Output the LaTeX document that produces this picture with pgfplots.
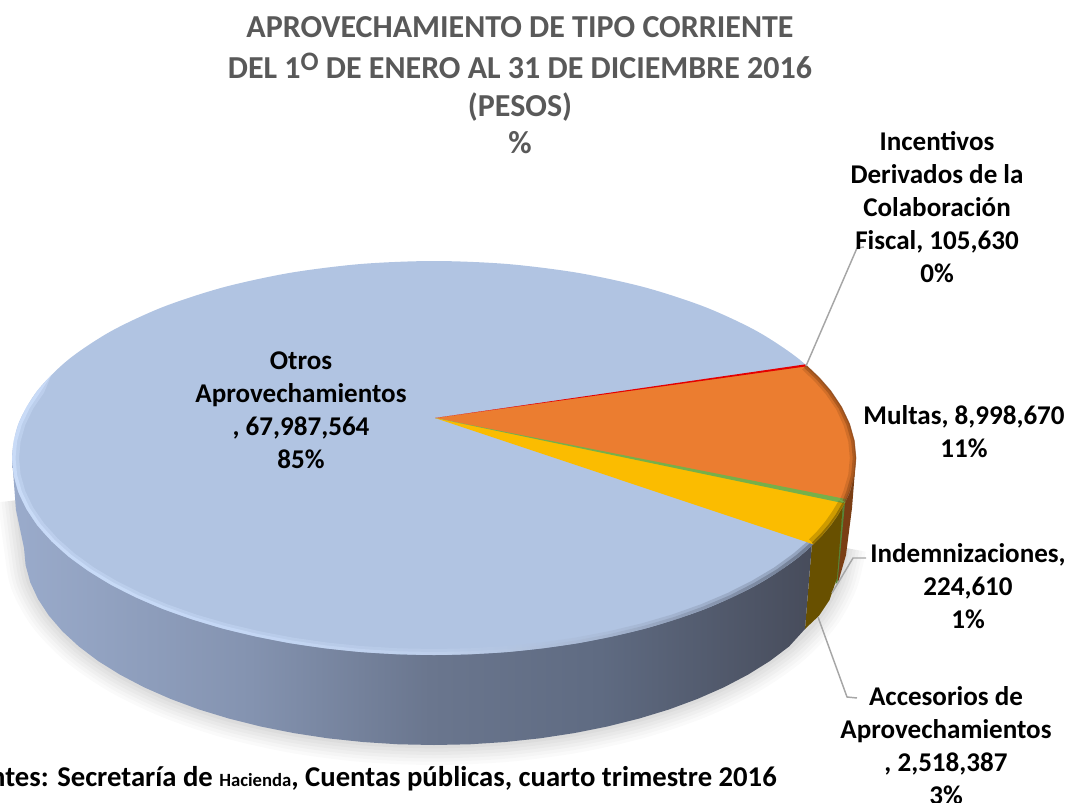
\documentclass[border=0pt]{standalone}
\usepackage{fontspec}
\setmainfont{Carlito}
\usepackage{pgfplots}
\pgfplotsset{compat=1.18}
\definecolor{sa}{HTML}{9AABCB}\definecolor{sb}{HTML}{8493B0}\definecolor{sc}{HTML}{6A768E}\definecolor{sd}{HTML}{5F6B82}\definecolor{se}{HTML}{474C5B}
\definecolor{ra}{HTML}{D2E4FF}\definecolor{rb}{HTML}{CDE0FE}\definecolor{rc}{HTML}{C2D3EE}\definecolor{rd}{HTML}{A3B2CC}\definecolor{re}{HTML}{78849B}\definecolor{rf}{HTML}{5A6477}
\pgfdeclarehorizontalshading{sideblue}{100bp}{color(0bp)=(sa);color(25bp)=(sa);color(39.9bp)=(sb);color(51.1bp)=(sc);color(61.75bp)=(sd);color(75bp)=(se);color(100bp)=(se)}
\pgfdeclarehorizontalshading{rimblue}{100bp}{color(0bp)=(ra);color(25bp)=(ra);color(36.7bp)=(rb);color(52.4bp)=(rc);color(61.75bp)=(rd);color(69.25bp)=(re);color(75bp)=(rf);color(100bp)=(rf)}
\definecolor{topblue}{HTML}{B1C4E2}
\definecolor{slorange}{HTML}{EB7D30}
\definecolor{slyellow}{HTML}{FBBC00}
\definecolor{slgreen}{HTML}{76B04A}
\definecolor{sideorange}{HTML}{7A3E14}
\definecolor{sideyellow}{HTML}{685000}
\definecolor{leader}{HTML}{A6A6A6}
\definecolor{titlegray}{HTML}{595959}
\newcommand{\bottomarc}{(846,548)(837.8,582.2)(819.3,615.4)(789.1,646.5)(748.1,674.6)(697.5,698.9)(639,718.6)(574.2,733.1)(505.2,742)(434,745)(362.8,742)(293.8,733.1)(229,718.6)(170.5,698.9)(119.9,674.6)(78.9,646.5)(48.7,615.4)(30.2,582.2)(24,548)(18,500)}
\newcommand{\outerrim}{(813.4,544.3)(799.5,556.5)(779.7,571)(757.3,584.6)(732.4,597.3)(705.3,608.9)(676,619.4)(645,628.6)(612.3,636.5)(578.3,643.1)(543.2,648.3)(507.3,652)(470.8,654.3)(434,655)(397.2,654.3)(360.7,652)(324.8,648.3)(289.7,643.1)(255.7,636.5)(223,628.6)(192,619.4)(162.7,608.9)(135.6,597.3)(110.7,584.6)(88.3,571)(68.5,556.5)(51.5,541.3)(37.4,525.4)(26.4,509)(18.4,492.2)(13.6,475.2)(12,458)(13.6,440.8)(18.4,423.8)(26.4,407)(37.4,390.6)(51.5,374.7)}
\begin{document}
\begin{tikzpicture}
\useasboundingbox (0,0) rectangle (801pt,602.25pt);
\clip (0,0) rectangle (801pt,602.25pt);
\begin{axis}[at={(0,0)},anchor=south west,width=801pt,height=602.25pt,scale only axis,hide axis,
  xmin=0,xmax=1068,ymin=0,ymax=803,y dir=reverse,clip=false]
% soft shadow
\addplot[smooth,black,opacity=.02,line width=30pt] coordinates {\bottomarc};
\addplot[smooth,black,opacity=.02,line width=25pt] coordinates {\bottomarc};
\addplot[smooth,black,opacity=.022,line width=20pt] coordinates {\bottomarc};
\addplot[smooth,black,opacity=.025,line width=15pt] coordinates {\bottomarc};
\addplot[smooth,black,opacity=.028,line width=10pt] coordinates {\bottomarc};
\addplot[smooth,black,opacity=.03,line width=5pt] coordinates {\bottomarc};
% side: orange
\addplot[fill=sideorange,draw=none] coordinates {(856,458)(852,508)(846,555)(838.5,581)(836,580)(843,503)(700,458)};
% side: green
\addplot[fill=slgreen!75!black,draw=none] coordinates {(845,503)(843,503)(835.5,584)(837.5,582.5)};
% side: yellow
\addplot[fill=sideyellow,draw=none] coordinates {(843,503)(837,578)(829.5,600)(819.3,615.4)(805,629)(812,543)(700,470)};
% side: blue
\addplot[shading=sideblue,draw=none] coordinates {(12,458)(16,510)(24,548)(25.6,565.2)(30.2,582.2)(38,599)(48.7,615.4)(62.4,631.3)(78.9,646.5)(98.1,661)(119.9,674.6)(144.1,687.3)(170.5,698.9)(198.8,709.4)(229,718.6)(260.7,726.5)(293.8,733.1)(327.9,738.3)(362.8,742)(398.2,744.3)(434,745)(469.8,744.3)(505.2,742)(540.1,738.3)(574.2,733.1)(607.3,726.5)(639,718.6)(669.2,709.4)(697.5,698.9)(723.9,687.3)(748.1,674.6)(769.9,661)(789.1,646.5)(805,629)(812,543)(434,458)};
% top face
\addplot[smooth,fill=topblue,draw=none] coordinates {(856,458)(849.6,492.2)(830.6,525.4)(799.5,556.5)(757.3,584.6)(705.3,608.9)(645,628.6)(578.3,643.1)(507.3,652)(434,655)(360.7,652)(289.7,643.1)(223,628.6)(162.7,608.9)(110.7,584.6)(68.5,556.5)(37.4,525.4)(18.4,492.2)(12,458)(18.4,423.8)(37.4,390.6)(68.5,359.5)(110.7,331.4)(162.7,307.1)(223,287.4)(289.7,272.9)(360.7,264)(434,261)(507.3,264)(578.3,272.9)(645,287.4)(705.3,307.1)(757.3,331.4)(799.5,359.5)(830.6,390.6)(849.6,423.8)(856,458)};
% top: rim bevel on the blue slice
\addplot[shading=rimblue,draw=none,opacity=.35] coordinates {\outerrim(44,392.7)(33.1,408.6)(25.3,424.8)(20.6,441.4)(19,458)(20.6,474.6)(25.3,491.2)(33.1,507.4)(44,523.3)(57.9,538.7)(74.6,553.5)(94,567.6)(116.1,580.7)(140.5,593)(167.2,604.3)(196,614.5)(226.5,623.4)(258.6,631.1)(292.1,637.5)(326.6,642.5)(361.9,646.1)(397.8,648.3)(434,649)(470.2,648.3)(506.1,646.1)(541.4,642.5)(575.9,637.5)(609.4,631.1)(641.5,623.4)(672,614.5)(700.8,604.3)(727.5,593)(751.9,580.7)(774,567.6)(793.4,553.5)(807.1,541.7)};
\addplot[shading=rimblue,draw=none,opacity=.6] coordinates {\outerrim(40.7,391.5)(29.8,407.8)(21.9,424.3)(17.1,441.1)(15.5,458)(17.1,474.9)(21.9,491.7)(29.8,508.2)(40.7,524.4)(54.7,540)(71.5,555)(91.2,569.3)(113.4,582.6)(138,595.2)(165,606.6)(194,617)(224.8,626)(257.1,633.8)(290.9,640.3)(325.7,645.4)(361.3,649)(397.5,651.3)(434,652)(470.5,651.3)(506.7,649)(542.3,645.4)(577.1,640.3)(610.9,633.8)(643.2,626)(674,617)(703,606.6)(730,595.2)(754.6,582.6)(776.9,569.3)(796.4,555)(810.2,543)};
% top: orange slice
\addplot[fill=slorange,draw=none] coordinates {(435,418)(806.6,365.5)(819.5,377.9)(830.6,390.6)(841.6,407)(849.6,423.8)(854.4,440.8)(856,458)(854.4,475.2)(849.6,492.2)(845.2,502.3)};
% top: yellow slice
\addplot[fill=slyellow,draw=none] coordinates {(435,418)(845.2,502.3)(837.6,515.6)(830.6,525.4)(822.5,535)(813.4,544.3)};
% top: green slice
\addplot[fill=slgreen,draw=none] coordinates {(435,418)(846.6,499.2)(844.6,503.4)};
% top: red slice
\addplot[fill=red!90!black,draw=none] coordinates {(435,418)(805,364.4)(807.4,366.2)};
% rim darkening of orange and yellow
\addplot[color=sideorange,opacity=.22,line width=4pt] coordinates {(804,367.5)(816.5,379.5)(827.5,392)(838.6,408)(846.1,424.5)(850.9,441)(852.5,458)(850.9,475)(846.1,491.5)(842.5,500.5)};
\addplot[color=sideorange,opacity=.4,line width=2.4pt] coordinates {(805.2,366.6)(818,378.8)(829,391.5)(840,407.6)(847.9,424.2)(852.7,441)(854.3,458)(852.7,475)(847.9,491.8)(844,501.5)};
\addplot[color=sideorange,opacity=.5,line width=1pt] coordinates {(806.4,365.8)(819.3,378)(830.4,390.8)(841.4,407.2)(849.3,424)(854.1,441)(855.7,458)(854.1,475)(849.3,492)(845,502.2)};
\addplot[color=sideyellow,opacity=.3,line width=4.5pt] coordinates {(841.5,502)(834.5,513.5)(827.5,523.5)(819.5,533)(811,541.5)};
\addplot[color=sideyellow,opacity=.55,line width=2pt] coordinates {(844.2,502.5)(836.9,515.2)(829.9,525)(821.8,534.5)(812.8,543.6)};
% leader lines
\addplot[color=leader,line width=1.1pt] coordinates {(806,366)(857,248)(864,247)};
\addplot[color=leader,line width=1.1pt] coordinates {(832,593)(853,558)(866,558)};
\addplot[color=leader,line width=1.1pt] coordinates {(818,617)(847,697)(857,698)};
% texts
\tikzset{ttl/.style={font=\fontsize{24}{28}\selectfont\bfseries,text=titlegray}}
\node[ttl] at (axis cs:520,27) {APROVECHAMIENTO DE TIPO CORRIENTE};
\node[ttl] at (axis cs:520,66) {DEL 1{\fontsize{20}{24}\selectfont\raisebox{.28em}{O}} DE ENERO AL 31 DE DICIEMBRE 2016};
\node[ttl] at (axis cs:520,107) {(PESOS)};
\node[ttl] at (axis cs:520,143) {\%};
\tikzset{lab/.style={font=\fontsize{20.3}{24.8}\selectfont\bfseries,align=center,inner sep=0pt}}
\node[lab] at (axis cs:301,410) {Otros\\Aprovechamientos\\, 67,987,564\\85\%};
\node[lab] at (axis cs:937,207) {Incentivos\\Derivados de la\\Colaboración\\Fiscal, 105,630\\0\%};
\node[lab] at (axis cs:964,432) {Multas, 8,998,670\\11\%};
\node[lab] at (axis cs:968,586) {Indemnizaciones,\\224,610\\1\%};
\node[lab] at (axis cs:946,746) {Accesorios de\\Aprovechamientos\\, 2,518,387\\3\%};
\node[font=\fontsize{21.5}{24}\selectfont\bfseries,anchor=east,inner sep=0pt] at (axis cs:777,779) {Fuentes: Secretaría de {\fontsize{14}{15}\selectfont Hacienda}, Cuentas públicas, cuarto trimestre 2016};
\end{axis}
\end{tikzpicture}
\end{document}
